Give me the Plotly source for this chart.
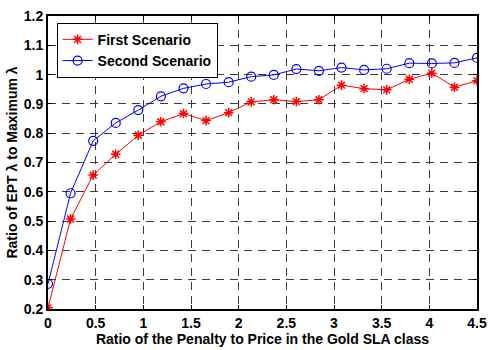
import plotly.graph_objects as go

# Penalty-to-price ratio sweep (20 steps from 0 to 4.5)
penalty_ratio = [0.0, 0.2368, 0.4737, 0.7105, 0.9474, 1.1842, 1.4211, 1.6579, 1.8947, 2.1316,
                 2.3684, 2.6053, 2.8421, 3.0789, 3.3158, 3.5526, 3.7895, 4.0263, 4.2632, 4.5]

first_scenario = [0.204, 0.507, 0.657, 0.728, 0.793, 0.839, 0.867, 0.843, 0.870, 0.907,
                  0.914, 0.908, 0.914, 0.964, 0.952, 0.948, 0.984, 1.005, 0.957, 0.979]

second_scenario = [0.286, 0.595, 0.774, 0.835, 0.879, 0.926, 0.953, 0.968, 0.974, 0.993,
                   0.999, 1.019, 1.013, 1.024, 1.016, 1.020, 1.039, 1.038, 1.040, 1.057]

x_ticks = [0, 0.5, 1, 1.5, 2, 2.5, 3, 3.5, 4, 4.5]
y_ticks = [0.2, 0.3, 0.4, 0.5, 0.6, 0.7, 0.8, 0.9, 1.0, 1.1, 1.2]
x_tick_text = ["0", "0.5", "1", "1.5", "2", "2.5", "3", "3.5", "4", "4.5"]
y_tick_text = ["0.2", "0.3", "0.4", "0.5", "0.6", "0.7", "0.8", "0.9", "1", "1.1", "1.2"]

font_family = "Liberation Sans, Arial, Helvetica, sans-serif"


def bold(s):
    return f"<b>{s}</b>"


fig = go.Figure()
fig.add_trace(go.Scatter(
    x=penalty_ratio, y=first_scenario, name=bold("First Scenario"),
    mode="lines+markers",
    line=dict(color="#ff0000", width=1),
    marker=dict(symbol="asterisk-open", size=8, color="#ff0000",
                line=dict(color="#ff0000", width=1.5)),
))
fig.add_trace(go.Scatter(
    x=penalty_ratio, y=second_scenario, name=bold("Second Scenario"),
    mode="lines+markers",
    line=dict(color="#0000ff", width=1),
    marker=dict(symbol="circle-open", size=9, color="#0000ff",
                line=dict(color="#0000ff", width=1.2)),
))

grid_style = dict(showgrid=True, gridcolor="#3a3a3a", gridwidth=1, griddash="8px,6px")
text_font = dict(family=font_family, size=14, color="black")

fig.update_layout(
    width=495, height=350,
    margin=dict(l=48, r=8, t=8, b=38),
    paper_bgcolor="white", plot_bgcolor="white",
    font=text_font,
    showlegend=True,
    legend=dict(
        x=0.02, y=0.977, xanchor="left", yanchor="top",
        bgcolor="white", bordercolor="black", borderwidth=1,
        font=dict(family=font_family, size=14, color="black"),
        tracegroupgap=0, itemwidth=30,
    ),
    xaxis=dict(
        range=[0, 4.5], tickvals=x_ticks, ticktext=[bold(t) for t in x_tick_text],
        ticks="inside", ticklen=4, tickcolor="black",
        showline=True, linecolor="black", linewidth=2, mirror="ticks",
        zeroline=False,
        tickfont=text_font,
        title=dict(text=bold("Ratio of the Penalty to Price in the Gold SLA class"),
                   font=text_font, standoff=1),
        **grid_style,
    ),
    yaxis=dict(
        range=[0.2, 1.2], tickvals=y_ticks, ticktext=[bold(t) for t in y_tick_text],
        ticks="inside", ticklen=4, tickcolor="black",
        showline=True, linecolor="black", linewidth=2, mirror="ticks",
        zeroline=False,
        tickfont=text_font,
        title=dict(text=bold("Ratio of EPT λ to Maximum λ"),
                   font=text_font, standoff=3),
        **grid_style,
    ),
)

fig.write_html("out.html")
